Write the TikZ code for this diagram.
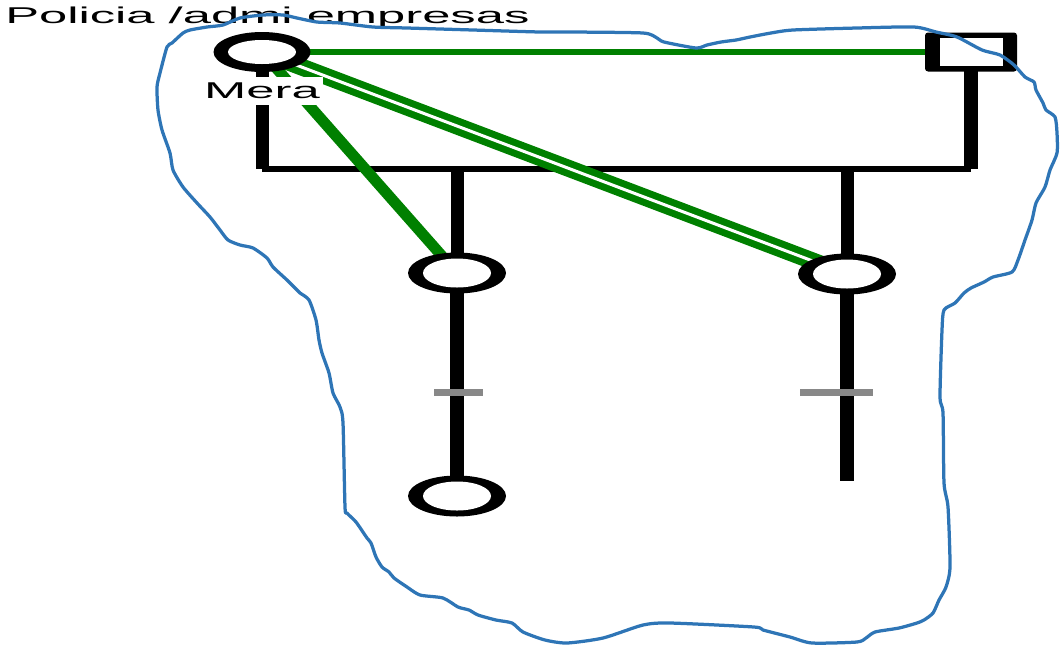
\documentclass[tikz,border=0pt]{standalone}
\usepackage{fontspec}
\newfontfamily\rotulo[FakeStretch=2.22]{Liberation Sans}
\usetikzlibrary{positioning,shapes.geometric,backgrounds}
\definecolor{verde}{HTML}{008000}
\definecolor{azul}{HTML}{2E75B6}
\definecolor{gris}{HTML}{888888}

\begin{document}
\begin{tikzpicture}[
  x=0.02cm, y=-0.02cm,
  % GLOBAL CFG
  font=\rotulo\fontsize{13}{15}\selectfont,
  % Styles
  mujer/.style={% For women (ring)
      ellipse,
      fill=black,
      inner sep=0pt,
      minimum width=1.96cm,
      minimum height=0.82cm,
      path picture={\fill[white] (path picture bounding box.center) ellipse (0.68cm and #1);},
      },
  mujer/.default=0.29cm,
  varon/.style={% For men (box)
      rectangle,
      fill=black,
      rounded corners=0.06cm,
      inner sep=0pt,
      minimum width=1.84cm,
      minimum height=0.78cm,
      path picture={\fill[white, sharp corners] ([shift={(-0.63cm,-0.28cm)}]path picture bounding box.center) rectangle ++(1.26cm,0.56cm);},
      },
  etiqueta/.style={% For names and titles
      inner sep=0pt,
      },
  desc/.style={% Parent and child lines
      line width=#1,
      },
  desc/.default=0.26cm,
  union/.style={% Bar between parents
      line width=0.12cm,
      },
  lazo/.style={% Green bonds
      draw=verde,
      line width=#1,
      },
  lazodoble/.style={% Double green bond
      draw=verde,
      line width=0.14cm,
      double=white,
      double distance=0.06cm,
      },
  corte/.style={% Gray tick on a line
      draw=gris,
      line width=0.14cm,
      },
  contorno/.style={% Hand drawn outline
      draw=azul,
      line width=0.065cm,
      line join=round,
      },
  ]
  \useasboundingbox (0,0) rectangle (1060,647);

  % People
  \node[mujer=0.24cm, minimum width=1.94cm, minimum height=0.80cm] (mera) at (262,52) {};
  \node[varon] (pareja) at (971,52) {};
  \node[mujer] (hija1) at (457,273) {};
  \node[mujer] (hija2) at (847,274) {};
  \node[mujer] (nieta) at (457,496) {};

  \coordinate (barL) at (262,169);
  \coordinate (barR) at (971,169);
  \coordinate (fin) at (847,481);

  \node[etiqueta, fill=white, inner xsep=0.06cm, inner ysep=0.12cm, below=0.08cm of mera] (nombre) {Mera};
  \node[etiqueta, anchor=base west] (titulo) at (5,23) {Policia /admi empresas};

  % Lines behind the people
  \begin{pgfonlayer}{background}
    \draw[desc] (mera.center) -- (barL);
    \draw[desc=0.28cm] (pareja.center) -- (barR);
    \draw[union] (barL) -- (barR);
    \draw[desc] (hija1 |- barL) -- (hija1.center);
    \draw[desc] (hija2 |- barL) -- (hija2.center);
    \draw[desc=0.28cm] (hija1.center) -- (nieta.center);
    \draw[desc=0.28cm] (hija2.center) -- (fin);
    \draw[lazo=0.12cm] (mera.center) -- (pareja.center);
    \draw[lazo=0.22cm] (mera.center) -- (hija1.center);
    \draw[lazodoble] (mera.center) -- (hija2.center);
  \end{pgfonlayer}

  \draw[corte] (434,392) -- (483,392);
  \draw[corte] (800,392) -- (873,392);

  % Outline
  \draw[contorno] plot[smooth cycle, tension=0.4] coordinates {
    (157,87) (160,73) (167,47) (172,43) (183,33) (190,30) (207,27) (223,25)
    (240,18) (263,15) (283,15) (297,18) (317,22) (340,23) (373,27) (407,28)
    (473,30) (540,32) (571,32) (643,33) (657,38) (664,42) (696,48) (707,45)
    (721,42) (736,40) (750,37) (771,33) (793,30) (857,28) (914,27) (936,32)
    (957,37) (982,50) (1000,55) (1014,65) (1025,77) (1034,82) (1036,90)
    (1043,103) (1046,110) (1055,117) (1057,133) (1057,153) (1050,170)
    (1045,187) (1036,203) (1032,220) (1025,240) (1018,260) (1012,272)
    (993,277) (984,282) (971,288) (964,293) (955,303) (944,310) (942,330)
    (940,397) (943,413) (944,483) (948,507) (950,567) (946,587) (939,600)
    (933,613) (924,620) (917,623) (899,628) (875,632) (866,638) (857,642)
    (812,643) (790,637) (763,630) (754,627) (670,623) (643,625) (603,638)
    (567,643) (545,640) (523,632) (512,623) (496,620) (478,615) (469,610)
    (458,607) (443,598) (420,595) (407,587) (394,578) (389,572) (382,567)
    (376,557) (371,543) (367,538) (356,522) (347,513) (345,507) (343,423)
    (340,407) (333,393) (329,373) (322,353) (319,340) (316,320) (309,300)
    (300,293) (297,290) (287,280) (273,267) (267,258) (253,248) (240,245)
    (228,240) (220,230) (210,217) (197,203) (183,187) (173,170) (170,153)
    (162,130) (158,110)};

\end{tikzpicture}
\end{document}
